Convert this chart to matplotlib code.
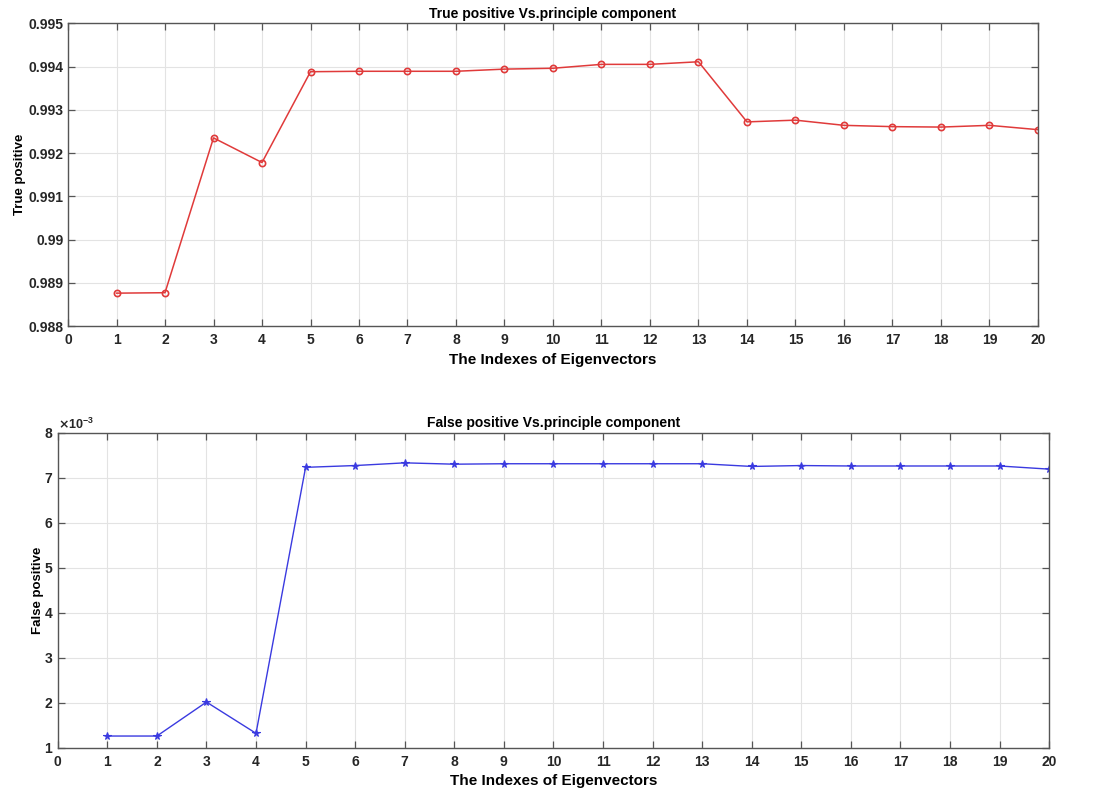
import matplotlib
matplotlib.use("Agg")
import matplotlib.pyplot as plt
from matplotlib.ticker import FuncFormatter, ScalarFormatter, MultipleLocator

plt.rcParams['font.family'] = ['Liberation Sans', 'DejaVu Sans']
plt.rcParams['font.weight'] = 'bold'

indexes = list(range(1, 21))
true_positive = [0.98876, 0.98877, 0.99235, 0.99178, 0.99388, 0.99389, 0.99389,
                 0.99389, 0.99394, 0.99396, 0.99405, 0.99405, 0.99411, 0.99272,
                 0.99276, 0.99264, 0.99261, 0.99260, 0.99264, 0.99254]
false_positive = [0.00126, 0.00126, 0.002015, 0.00132, 0.00723, 0.00727, 0.00733,
                  0.00730, 0.00731, 0.00731, 0.00731, 0.00731, 0.00731, 0.00725,
                  0.00727, 0.00726, 0.00726, 0.00726, 0.00726, 0.00719]

title_top = "True positive Vs.principle component"
title_bot = "False positive Vs.principle component"
xlabel = "The Indexes of Eigenvectors"

fig = plt.figure(figsize=(11.04, 7.89), dpi=100)
ax1 = fig.add_axes([0.0616, 0.5868, 0.8786, 0.3837])
ax2 = fig.add_axes([0.0523, 0.0523, 0.8980, 0.3993])


def style(ax):
    ax.grid(True, color='#e3e3e3', linewidth=0.8)
    ax.set_axisbelow(True)
    for s in ax.spines.values():
        s.set_color('#555555')
        s.set_linewidth(1.0)
    ax.tick_params(direction='in', top=True, right=True, length=5,
                   width=0.9, color='#555555', labelsize=10, labelcolor='#262626')
    ax.tick_params(axis='x', pad=5)
    ax.tick_params(axis='y', pad=3)
    for lab in ax.get_xticklabels() + ax.get_yticklabels():
        lab.set_fontweight('bold')
    ax.set_xlim(0, 20)
    ax.xaxis.set_major_locator(MultipleLocator(1))


ax1.plot(indexes, true_positive, color='#e03a3a', linewidth=1.1, marker='o',
         markersize=4.5, markerfacecolor='none', markeredgewidth=1.2)
ax1.set_ylim(0.988, 0.995)
ax1.yaxis.set_major_locator(MultipleLocator(0.001))
ax1.yaxis.set_major_formatter(FuncFormatter(lambda v, p: ('%.3f' % v).rstrip('0')))
style(ax1)
ax1.set_title(title_top, fontsize=10, fontweight='bold', pad=4)
ax1.set_xlabel(xlabel, fontsize=11, fontweight='bold', labelpad=4)
ax1.set_ylabel("True positive", fontsize=9.5, fontweight='bold', labelpad=2)

ax2.plot(indexes, false_positive, color='#3a3ae0', linewidth=1.0, marker='*',
         markersize=5.5, markeredgewidth=0.8)
ax2.set_ylim(0.001, 0.008)
ax2.yaxis.set_major_locator(MultipleLocator(0.001))
fmt = ScalarFormatter(useMathText=True)
fmt.set_powerlimits((-2, 2))
ax2.yaxis.set_major_formatter(fmt)
style(ax2)
ax2.yaxis.get_offset_text().set_fontsize(9)
ax2.yaxis.get_offset_text().set_color('#262626')
ax2.set_title(title_bot, fontsize=10, fontweight='bold', pad=4)
ax2.set_xlabel(xlabel, fontsize=11, fontweight='bold', labelpad=4)
ax2.set_ylabel("False positive", fontsize=9.5, fontweight='bold', labelpad=0)

fig.savefig("out.png", dpi=100)
